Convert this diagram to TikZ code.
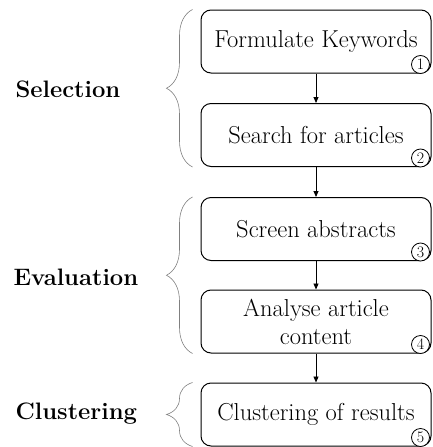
\documentclass[tikz,border=0pt]{standalone}
\usepackage{fontspec}
\usetikzlibrary{decorations.pathreplacing,arrows.meta}

\begin{document}
\begin{tikzpicture}[x=1pt,y=1pt,
    stage/.style={draw,line width=1pt,rounded corners=10pt,minimum width=230pt,minimum height=63pt,align=center,font=\fontsize{24.5}{28}\selectfont},
    num/.style={draw,circle,fill=white,line width=0.8pt,inner sep=0pt,minimum size=18pt,font=\fontsize{16}{16}\selectfont},
    phase/.style={anchor=west,font=\fontsize{23.8}{24}\selectfont\bfseries},
    grp/.style={draw=gray,line width=0.6pt,decorate,decoration={brace,amplitude=26pt}},
    flow/.style={-{Triangle[length=6pt,width=5pt]},line width=0.9pt}]
    \useasboundingbox (0,0) rectangle (432,-447);

    \node[stage] (kw) at (316,-41.5) {Formulate Keywords};
    \node[stage] (search) at (316,-135) {Search for articles};
    \node[stage] (screen) at (316,-229) {Screen abstracts};
    \node[stage] (analyse) at (316,-321.5) {Analyse article\\content};
    \node[stage] (cluster) at (316,-414.5) {Clustering of results};

    \draw[flow] (kw) -- (search);
    \draw[flow] (search) -- (screen);
    \draw[flow] (screen) -- (analyse);
    \draw[flow] (analyse) -- (cluster);

    \foreach \n/\s in {1/kw,2/search,3/screen,4/analyse,5/cluster}
        \node[num] (n\n) at ([xshift=-11pt,yshift=9pt]\s.south east) {\n};

    \draw[grp] ([xshift=-8pt]search.south west) -- ([xshift=-8pt]kw.north west);
    \draw[grp] ([xshift=-8pt]analyse.south west) -- ([xshift=-8pt]screen.north west);
    \draw[grp] ([xshift=-8pt]cluster.south west) -- ([xshift=-8pt]cluster.north west);

    \node[phase] (sel) at (12,-89) {Selection};
    \node[phase] (eval) at (10,-277) {Evaluation};
    \node[phase] (clu) at (12,-414) {Clustering};
\end{tikzpicture}
\end{document}
